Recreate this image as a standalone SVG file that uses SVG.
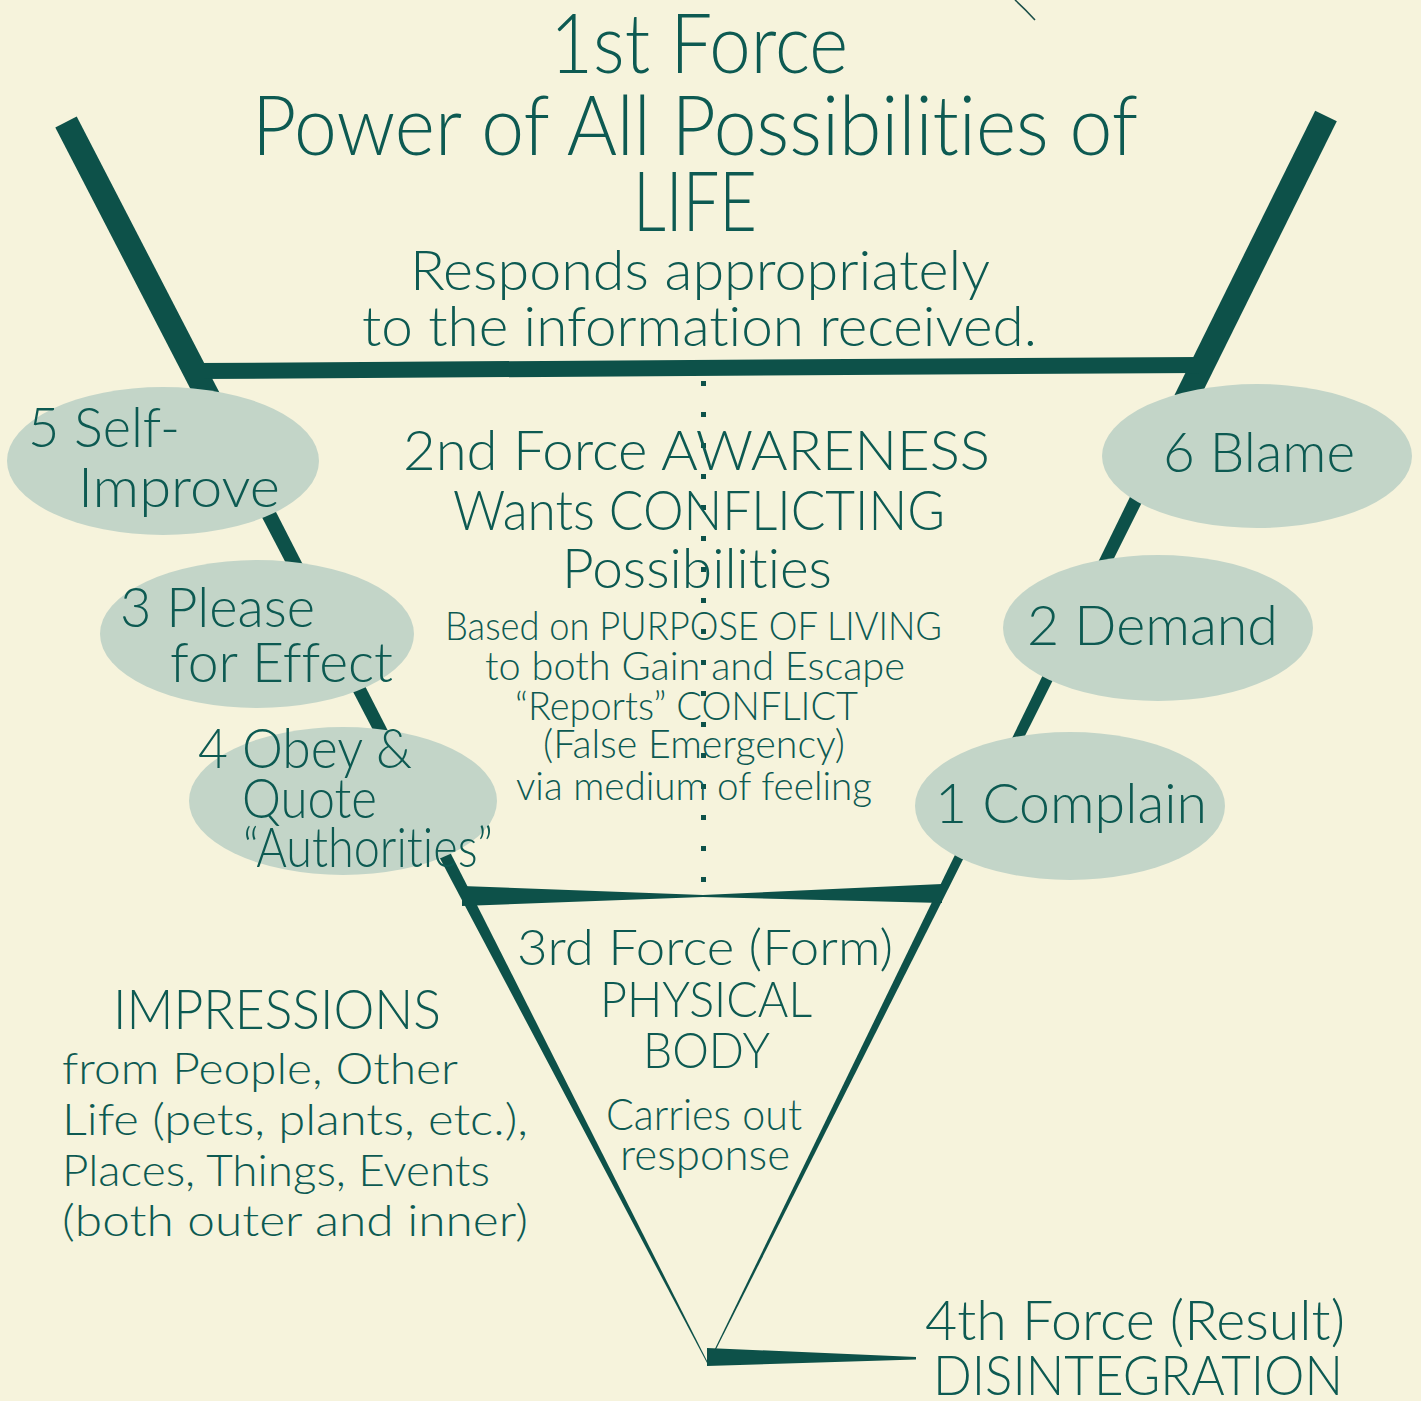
<svg xmlns="http://www.w3.org/2000/svg" width="1421" height="1401" viewBox="0 0 1421 1401">
  <defs>
    <style>
      .bg { fill: #f6f3dc; }
      .bar { fill: #0d5149; }
      .dot { fill: #0d5149; }
      .oval { fill: #c3d5c8; }
      .t { fill: #0d5a52; font-family: "Lato", "Open Sans", "Liberation Sans", sans-serif; font-weight: 300; font-variant-ligatures: none; font-feature-settings: "liga" 0, "clig" 0; }
      .xl { font-size: 82px; }
      .l { font-size: 56px; }
      .m { font-size: 50px; }
      .s { font-size: 44px; }
      .xs { font-size: 40px; }
    </style>
  </defs>

  <rect class="bg" x="0" y="0" width="1421" height="1401"/>
  <!-- small pen stroke near the top edge -->
  <path d="M1015,0 Q1025,9 1035,20" fill="none" stroke="#1b4f49" stroke-width="1.6"/>

  <!-- frame: funnel arms, cross bars and the dotted axis -->
  <g id="connectors">
    <!-- left arm, heavy upper part -->
    <polygon class="bar" points="55.3,127.5 76.7,116.5 220.7,395 193.6,395"/>
    <!-- left arm, tapering to the bottom point -->
    <polygon class="bar" points="196.6,392 214.6,392 464.3,880 708.6,1364 707.6,1364 451.3,880"/>
    <!-- right arm, heavy upper part -->
    <polygon class="bar" points="1315.2,110.7 1336.8,121.3 1201.2,395 1174.5,395"/>
    <!-- right arm, tapering to the bottom point -->
    <polygon class="bar" points="1181.3,392 1197.3,392 952.7,880 708.6,1364 707.6,1364 942.7,880"/>
    <!-- top cross bar -->
    <polygon class="bar" points="196,363 1200,357 1200,373 196,379"/>
    <!-- middle bow-tie bar -->
    <polygon class="bar" points="462,886 703,895 942,884 942,903 703,897 462,906"/>
    <!-- bottom pointer bar -->
    <polygon class="bar" points="707,1348 916,1357 916,1359.5 707,1366"/>
    <!-- dotted centre axis -->
    <g id="axis">
      <rect class="dot" x="701" y="381" width="5" height="5"/>
      <rect class="dot" x="701" y="412" width="5" height="5"/>
      <rect class="dot" x="701" y="443" width="5" height="5"/>
      <rect class="dot" x="701" y="474" width="5" height="5"/>
      <rect class="dot" x="701" y="505" width="5" height="5"/>
      <rect class="dot" x="701" y="536" width="5" height="5"/>
      <rect class="dot" x="701" y="567" width="5" height="5"/>
      <rect class="dot" x="701" y="598" width="5" height="5"/>
      <rect class="dot" x="701" y="629" width="5" height="5"/>
      <rect class="dot" x="701" y="660" width="5" height="5"/>
      <rect class="dot" x="701" y="691" width="5" height="5"/>
      <rect class="dot" x="701" y="722" width="5" height="5"/>
      <rect class="dot" x="701" y="753" width="5" height="5"/>
      <rect class="dot" x="701" y="784" width="5" height="5"/>
      <rect class="dot" x="701" y="815" width="5" height="5"/>
      <rect class="dot" x="701" y="846" width="5" height="5"/>
      <rect class="dot" x="701" y="877" width="5" height="5"/>
    </g>
  </g>

  <!-- 1st force heading -->
  <g id="first-force">
    <text class="t xl" x="550" y="73" textLength="298" lengthAdjust="spacingAndGlyphs">1st Force</text>
    <text class="t xl" x="252" y="155" textLength="886" lengthAdjust="spacingAndGlyphs">Power of All Possibilities of</text>
    <text class="t xl" x="633" y="231" textLength="124" lengthAdjust="spacingAndGlyphs">LIFE</text>
    <text class="t l" x="410" y="290" textLength="580" lengthAdjust="spacingAndGlyphs">Responds appropriately</text>
    <text class="t l" x="362" y="346" textLength="675" lengthAdjust="spacingAndGlyphs">to the information received.</text>
  </g>

  <!-- left chain of reactions -->
  <g id="node-5">
    <ellipse class="oval" cx="163" cy="461" rx="156" ry="74"/>
    <text class="t l" x="28" y="447" textLength="152" lengthAdjust="spacingAndGlyphs">5 Self-</text>
    <text class="t l" x="78" y="507" textLength="202" lengthAdjust="spacingAndGlyphs">Improve</text>
  </g>
  <g id="node-3">
    <ellipse class="oval" cx="257" cy="634" rx="157" ry="74"/>
    <text class="t l" x="120" y="627" textLength="195" lengthAdjust="spacingAndGlyphs">3 Please</text>
    <text class="t l" x="170" y="682" textLength="223" lengthAdjust="spacingAndGlyphs">for Effect</text>
  </g>
  <g id="node-4">
    <ellipse class="oval" cx="343" cy="801" rx="154" ry="74"/>
    <text class="t l" x="198" y="768" textLength="214" lengthAdjust="spacingAndGlyphs">4 Obey &amp;</text>
    <text class="t l" x="242" y="818" textLength="135" lengthAdjust="spacingAndGlyphs">Quote</text>
    <text class="t l" x="243" y="867" textLength="250" lengthAdjust="spacingAndGlyphs">“Authorities”</text>
  </g>

  <!-- right chain of reactions -->
  <g id="node-6">
    <ellipse class="oval" cx="1257" cy="456" rx="155" ry="72"/>
    <text class="t l" x="1163" y="472" textLength="192" lengthAdjust="spacingAndGlyphs">6 Blame</text>
  </g>
  <g id="node-2">
    <ellipse class="oval" cx="1158" cy="628" rx="155" ry="73"/>
    <text class="t l" x="1027" y="645" textLength="251" lengthAdjust="spacingAndGlyphs">2 Demand</text>
  </g>
  <g id="node-1">
    <ellipse class="oval" cx="1070" cy="806" rx="155" ry="74"/>
    <text class="t l" x="935" y="823" textLength="272" lengthAdjust="spacingAndGlyphs">1 Complain</text>
  </g>

  <!-- 2nd force: awareness -->
  <g id="second-force">
    <text class="t l" x="403" y="470" textLength="587" lengthAdjust="spacingAndGlyphs">2nd Force AWARENESS</text>
    <text class="t l" x="453" y="530" textLength="492" lengthAdjust="spacingAndGlyphs">Wants CONFLICTING</text>
    <text class="t l" x="562" y="588" textLength="270" lengthAdjust="spacingAndGlyphs">Possibilities</text>
    <text class="t xs" x="445" y="640" textLength="497" lengthAdjust="spacingAndGlyphs">Based on PURPOSE OF LIVING</text>
    <text class="t xs" x="485" y="680" textLength="420" lengthAdjust="spacingAndGlyphs">to both Gain and Escape</text>
    <text class="t xs" x="515" y="720" textLength="343" lengthAdjust="spacingAndGlyphs">“Reports” CONFLICT</text>
    <text class="t xs" x="543" y="758" textLength="302" lengthAdjust="spacingAndGlyphs">(False Emergency)</text>
    <text class="t xs" x="516" y="800" textLength="356" lengthAdjust="spacingAndGlyphs">via medium of feeling</text>
  </g>

  <!-- 3rd force: the body -->
  <g id="third-force">
    <text class="t m" x="517" y="965" textLength="376" lengthAdjust="spacingAndGlyphs">3rd Force (Form)</text>
    <text class="t m" x="600" y="1017" textLength="212" lengthAdjust="spacingAndGlyphs">PHYSICAL</text>
    <text class="t m" x="643" y="1068" textLength="127" lengthAdjust="spacingAndGlyphs">BODY</text>
    <text class="t s" x="606" y="1130" textLength="196" lengthAdjust="spacingAndGlyphs">Carries out</text>
    <text class="t s" x="620" y="1170" textLength="170" lengthAdjust="spacingAndGlyphs">response</text>
  </g>

  <!-- incoming impressions -->
  <g id="impressions">
    <text class="t l" x="113" y="1029" textLength="328" lengthAdjust="spacingAndGlyphs">IMPRESSIONS</text>
    <text class="t s" x="62" y="1084" textLength="396" lengthAdjust="spacingAndGlyphs">from People, Other</text>
    <text class="t s" x="62" y="1135" textLength="466" lengthAdjust="spacingAndGlyphs">Life (pets, plants, etc.),</text>
    <text class="t s" x="62" y="1186" textLength="428" lengthAdjust="spacingAndGlyphs">Places, Things, Events</text>
    <text class="t s" x="62" y="1236" textLength="466" lengthAdjust="spacingAndGlyphs">(both outer and inner)</text>
  </g>

  <!-- 4th force: result -->
  <g id="fourth-force">
    <text class="t l" x="925" y="1340" textLength="420" lengthAdjust="spacingAndGlyphs">4th Force (Result)</text>
    <text class="t l" x="933" y="1395" textLength="410" lengthAdjust="spacingAndGlyphs">DISINTEGRATION</text>
  </g>
</svg>
